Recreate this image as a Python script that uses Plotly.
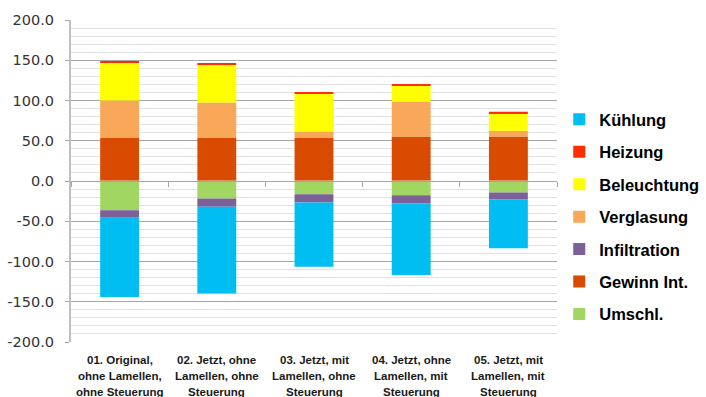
import plotly.graph_objects as go

# Energy balance per variant (kWh/m²a), stacked positive/negative contributions
categories = ["v01", "v02", "v03", "v04", "v05"]
category_labels = [
    ["01. Original,", "ohne Lamellen,", "ohne Steuerung"],
    ["02. Jetzt, ohne", "Lamellen, ohne", "Steuerung"],
    ["03. Jetzt, mit", "Lamellen, ohne", "Steuerung"],
    ["04. Jetzt, ohne", "Lamellen, mit", "Steuerung"],
    ["05. Jetzt, mit", "Lamellen, mit", "Steuerung"],
]
y_ticks = [-200, -150, -100, -50, 0, 50, 100, 150, 200]

umschl = [-36.2, -21.8, -16.5, -17.7, -14.4]
gewinn_int = [53.3, 53.3, 53.3, 55.4, 55.4]
infiltration = [-9.5, -10.3, -10.2, -10.3, -8.2]
verglasung = [46.7, 44.2, 8.3, 43.4, 7.0]
beleuchtung = [47.1, 47.1, 47.1, 19.8, 21.9]
heizung = [1.2, 1.3, 1.6, 0.8, 1.7]
kuehlung = [-98.3, -107.8, -79.9, -88.9, -60.9]

series = [
    ("Umschl.", umschl, "#A2D662"),
    ("Gewinn Int.", gewinn_int, "#D84B00"),
    ("Infiltration", infiltration, "#7B6198"),
    ("Verglasung", verglasung, "#F8A858"),
    ("Beleuchtung", beleuchtung, "#FFFF00"),
    ("Heizung", heizung, "#FF2D00"),
    ("Kühlung", kuehlung, "#00BDF2"),
]

fig = go.Figure()
n = len(series)
for k, (name, vals, color) in enumerate(series):
    fig.add_trace(go.Bar(
        x=categories, y=vals, name=name, legendgroup=name,
        legendrank=n - k,
        marker=dict(color=color, line=dict(width=0)),
    ))

# invisible trace on the overlay axis so the y=0 category axis gets drawn
fig.add_trace(go.Bar(x=categories, y=[0] * 5, xaxis="x2", showlegend=False,
                     hoverinfo="skip", marker=dict(color="rgba(0,0,0,0)")))

fig.update_layout(
    width=706, height=397,
    margin=dict(l=71, r=149, t=20, b=55, autoexpand=False),
    barmode="relative", bargap=0.6,
    plot_bgcolor="white", paper_bgcolor="white",
    font=dict(family="DejaVu Sans", color="#333333"),
    xaxis=dict(
        showticklabels=False, showgrid=False, ticks="",
        showline=False, zeroline=False, automargin=False,
    ),
    xaxis2=dict(
        overlaying="x", anchor="free", position=0.5, side="bottom",
        showticklabels=False, ticks="outside", tickson="boundaries",
        ticklen=5, tickcolor="#A6A6A6", tickwidth=1,
        showline=True, linecolor="#A6A6A6", linewidth=1,
        showgrid=False, zeroline=False, automargin=False,
        categoryorder="array", categoryarray=categories,
    ),
    yaxis=dict(
        range=[-200, 200],
        tickvals=y_ticks, ticktext=[f"{v:.1f}" for v in y_ticks],
        tickfont=dict(family="DejaVu Sans", size=14.5, color="#333333"),
        showgrid=True, gridcolor="#A6A6A6", gridwidth=1,
        minor=dict(dtick=10, showgrid=True, gridcolor="#E2E2E2", gridwidth=1),
        ticks="outside", ticklen=4, tickcolor="#A6A6A6",
        ticklabelstandoff=8, automargin=False,
        showline=True, linecolor="#BFBFBF", linewidth=2,
        zeroline=False,
    ),
    legend=dict(
        x=1.0046, xanchor="left", y=0.388, yanchor="middle",
        traceorder="grouped", tracegroupgap=8,
        font=dict(family="Liberation Sans", size=16.5, color="#000000", weight="bold"),
        itemwidth=30, bgcolor="rgba(0,0,0,0)",
    ),
)

# three-line category labels below the plot area
for cat, lines in zip(categories, category_labels):
    for i, line in enumerate(lines):
        fig.add_annotation(
            x=cat, xref="x", y=0, yref="paper", yanchor="middle",
            yshift=-18 - 16 * i, text=line, showarrow=False,
            font=dict(family="Liberation Sans", size=11.5, color="#1A1A1A", weight="bold"),
        )

fig.write_html("out.html")
